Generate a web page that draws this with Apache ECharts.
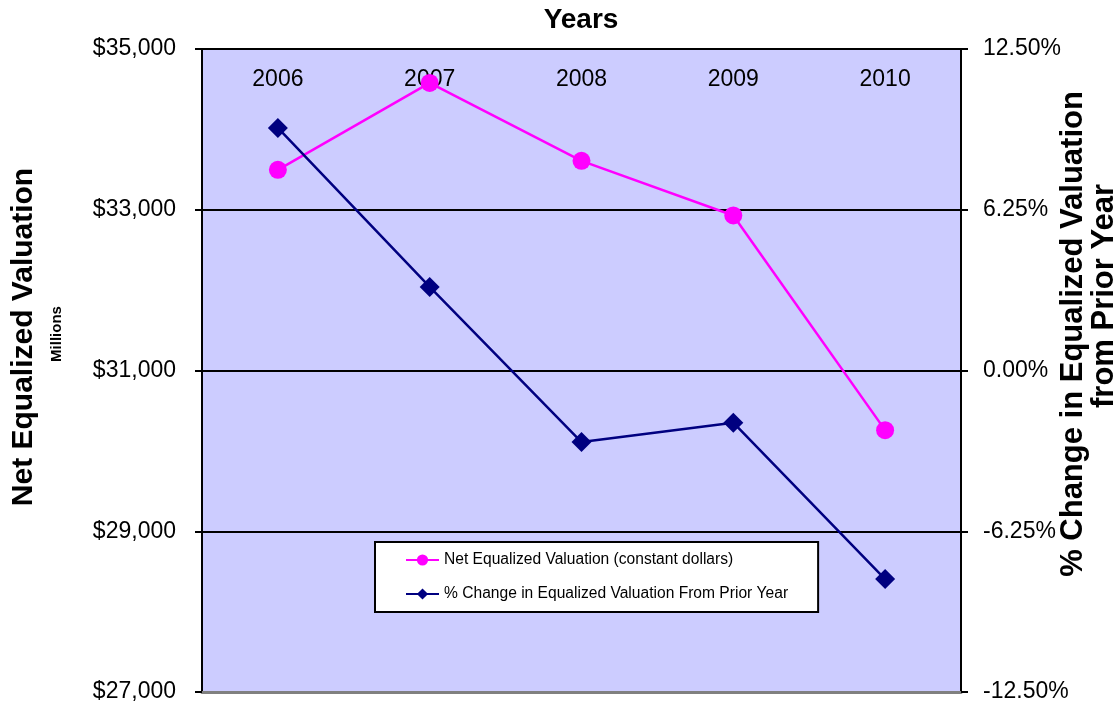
<!DOCTYPE html>
<html>
<head>
<meta charset="utf-8">
<script src="https://cdn.jsdelivr.net/npm/echarts@6/dist/echarts.min.js"></script>
<style>
  html, body { margin: 0; padding: 0; background: #fff; }
  #chart { width: 1120px; height: 707px; }
</style>
</head>
<body>
<div id="chart"></div>
<script>
// --- data ---
const years = ["2006", "2007", "2008", "2009", "2010"];
const netValuation = [33497, 34578, 33609, 32929, 30258];   // $ millions, constant dollars
const pctChange = [9.43, 3.25, -2.78, -2.03, -8.11];        // % change from prior year

const valuationName = "Net Equalized Valuation (constant dollars)";
const changeName = "% Change in Equalized Valuation From Prior Year";

const FONT = "Arial, 'Liberation Sans', sans-serif";
const axisBlack = { color: "#000", width: 2 };

const chart = echarts.init(document.getElementById("chart"));

chart.setOption({
  animation: false,
  grid: {
    left: 202, right: 159, top: 49, bottom: 15,
    show: true, backgroundColor: "#ccccff", borderWidth: 0
  },
  legend: {
    left: 375, top: 542,
    orient: "vertical",
    backgroundColor: "#fff",
    borderColor: "#000",
    borderWidth: 2,
    padding: [10, 30, 10, 30],
    itemWidth: 33,
    itemHeight: 14,
    itemGap: 18,
    textStyle: { fontFamily: FONT, fontSize: 15.6, color: "#000" },
    data: [valuationName, changeName]
  },
  xAxis: [
    {
      // top axis, year labels sit inside the plot
      type: "category",
      data: years,
      position: "top",
      boundaryGap: true,
      axisLine: { lineStyle: axisBlack },
      axisTick: { inside: true, length: 6, lineStyle: axisBlack },
      axisLabel: { inside: true, margin: 19, fontFamily: FONT, fontSize: 23, color: "#000" },
      splitLine: { show: false }
    },
    {
      // outer half of the crossing ticks on the top axis
      type: "category",
      data: years,
      position: "top",
      boundaryGap: true,
      axisLine: { show: false },
      axisTick: { length: 6, lineStyle: axisBlack },
      axisLabel: { show: false },
      splitLine: { show: false }
    },
    {
      // grey bottom edge of the plot
      type: "category",
      data: years,
      position: "bottom",
      axisLine: { lineStyle: { color: "#808080", width: 3 } },
      axisTick: { show: false },
      axisLabel: { show: false },
      splitLine: { show: false }
    }
  ],
  yAxis: [
    {
      type: "value",
      position: "left",
      min: 27000, max: 35000, interval: 2000,
      axisLine: { show: true, lineStyle: axisBlack },
      axisTick: { show: true, length: 7, lineStyle: axisBlack },
      axisLabel: {
        margin: 26, fontFamily: FONT, fontSize: 23, color: "#000",
        formatter: (v) => "$" + v.toLocaleString("en-US")
      },
      splitLine: {
        show: true,
        lineStyle: { color: ["#808080", "#000", "#000", "#000", "#000"], width: 2 }
      }
    },
    {
      type: "value",
      position: "right",
      min: -12.5, max: 12.5, interval: 6.25,
      axisLine: { show: true, lineStyle: axisBlack },
      axisTick: { show: true, length: 7, lineStyle: axisBlack },
      axisLabel: {
        margin: 22, fontFamily: FONT, fontSize: 23, color: "#000",
        formatter: (v) => v.toFixed(2) + "%"
      },
      splitLine: { show: false }
    }
  ],
  series: [
    {
      name: valuationName,
      type: "line",
      xAxisIndex: 0,
      yAxisIndex: 0,
      data: netValuation,
      symbol: "circle",
      symbolSize: 18,
      lineStyle: { color: "#ff00ff", width: 2.5 },
      itemStyle: { color: "#ff00ff" },
      z: 3
    },
    {
      name: changeName,
      type: "line",
      xAxisIndex: 0,
      yAxisIndex: 1,
      data: pctChange,
      symbol: "diamond",
      symbolSize: 20,
      lineStyle: { color: "#000080", width: 2.5 },
      itemStyle: { color: "#000080" },
      z: 4
    }
  ],
  graphic: [
    {
      type: "text", x: 581, y: 20,
      style: { text: "Years", font: "bold 28px " + FONT, fill: "#000", align: "center", verticalAlign: "middle" }
    },
    {
      type: "text", x: 24, y: 337, rotation: Math.PI / 2,
      style: { text: "Net Equalized Valuation", font: "bold 30px " + FONT, fill: "#000", align: "center", verticalAlign: "middle" }
    },
    {
      type: "text", x: 57, y: 334, rotation: Math.PI / 2,
      style: { text: "Millions", font: "bold 15px " + FONT, fill: "#000", align: "center", verticalAlign: "middle" }
    },
    {
      type: "text", x: 1073, y: 334, rotation: Math.PI / 2,
      style: { text: "% Change in Equalized Valuation", font: "bold 31px " + FONT, fill: "#000", align: "center", verticalAlign: "middle" }
    },
    {
      type: "text", x: 1104, y: 296, rotation: Math.PI / 2,
      style: { text: "from Prior Year", font: "bold 31px " + FONT, fill: "#000", align: "center", verticalAlign: "middle" }
    }
  ]
});
</script>
</body>
</html>
